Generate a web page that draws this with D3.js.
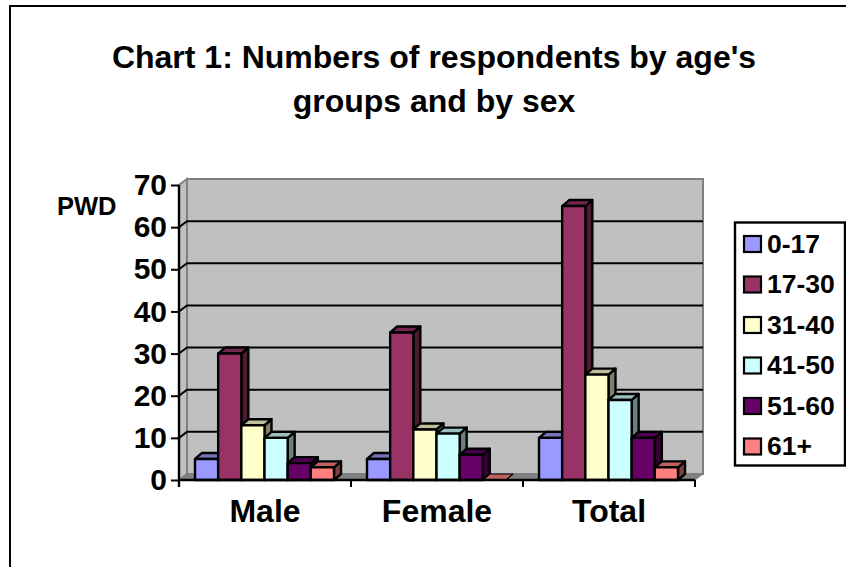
<html>
<head>
  <title>Chart 1</title>
  <script src="https://d3js.org/d3.v7.min.js"></script>
  <style>
    html, body { margin: 0; padding: 0; background: #fff; }
    svg { display: block; font-family: "Liberation Sans", Arial, sans-serif; font-weight: bold; }
  </style>
</head>
<body>
  <svg id="chart" width="846" height="567"></svg>
  <script>
    var titleLines = ["Chart 1: Numbers of respondents by age's", "groups and by sex"];
    var yLabel = "PWD";
    var categories = ["Male", "Female", "Total"];
    var ageGroups = ["0-17", "17-30", "31-40", "41-50", "51-60", "61+"];
    var yTicks = [0, 10, 20, 30, 40, 50, 60, 70];

    var age0to17 = [5, 5, 10];
    var age17to30 = [30, 35, 65];
    var age31to40 = [13, 12, 25];
    var age41to50 = [10, 11, 19];
    var age51to60 = [4, 6, 10];
    var age61plus = [3, 0, 3];
    var seriesValues = [age0to17, age17to30, age31to40, age41to50, age51to60, age61plus];

    var fronts = ["#9999ff", "#993366", "#ffffcc", "#ccffff", "#660066", "#ff8080"];
    var tops = ["#7373bf", "#732650", "#bfbf99", "#99bfbf", "#4d004d", "#bf6060"];
    var sides = ["#5c5c99", "#4d1a33", "#80806a", "#6a8080", "#330033", "#804040"];

    var svg = d3.select("#chart");

    // chart frame
    svg.append("rect").attr("x", 10).attr("y", 6).attr("width", 850).attr("height", 580)
      .attr("fill", "#fff").attr("stroke", "#000").attr("stroke-width", 2);

    svg.selectAll("text.title").data(titleLines).enter().append("text")
      .attr("class", "title")
      .attr("x", 434).attr("y", function (d, i) { return 68 + i * 44; })
      .attr("text-anchor", "middle").attr("font-size", 32).text(function (d) { return d; });

    var x0 = d3.scaleBand().domain(categories).range([179, 695]);
    var x1 = d3.scaleBand().domain(d3.range(ageGroups.length)).range([16, 155]);
    var y = d3.scaleLinear().domain([0, 70]).range([480, 185]);
    var depthX = 8, depthY = -6, barDepthX = 7, barDepthY = -6;

    function poly(pts) { return "M" + pts.map(function (p) { return p.join(","); }).join("L") + "Z"; }

    var plot = svg.append("g");
    var left = x0.range()[0], right = x0.range()[1], y0 = y(0), yTop = y(70);

    // back wall, side wall, floor
    plot.append("path")
      .attr("d", poly([[left + depthX, y0 + depthY], [left + depthX, yTop + depthY], [right + depthX, yTop + depthY], [right + depthX, y0 + depthY]]))
      .attr("fill", "#c0c0c0").attr("stroke", "#808080").attr("stroke-width", 2);
    plot.append("path")
      .attr("d", poly([[left, y0], [left, yTop], [left + depthX, yTop + depthY], [left + depthX, y0 + depthY]]))
      .attr("fill", "#c0c0c0").attr("stroke", "#808080").attr("stroke-width", 2);
    plot.append("path")
      .attr("d", poly([[left, y0], [left + depthX, y0 + depthY], [right + depthX, y0 + depthY], [right, y0]]))
      .attr("fill", "#808080").attr("stroke", "#808080");

    // gridlines on the back wall, wrapping round the side wall
    plot.selectAll("path.grid").data(yTicks.slice(1, -1)).enter().append("path")
      .attr("class", "grid")
      .attr("d", function (d) { return "M" + left + "," + y(d) + "L" + (left + depthX) + "," + (y(d) + depthY) + "H" + (right + depthX); })
      .attr("fill", "none").attr("stroke", "#000").attr("stroke-width", 2);

    // bars
    categories.forEach(function (cat, c) {
      ageGroups.forEach(function (age, s) {
        var v = seriesValues[s][c];
        var bx = x0(cat) + x1(s), bw = x1.bandwidth(), by = y(v);
        var g = plot.append("g").attr("stroke", "#000").attr("stroke-width", 2.4).attr("stroke-linejoin", "round");
        if (v > 0) {
          g.append("path").attr("fill", sides[s])
            .attr("d", poly([[bx + bw, by], [bx + bw + barDepthX, by + barDepthY], [bx + bw + barDepthX, y0 + barDepthY], [bx + bw, y0]]));
          g.append("path").attr("fill", tops[s])
            .attr("d", poly([[bx, by], [bx + barDepthX, by + barDepthY], [bx + bw + barDepthX, by + barDepthY], [bx + bw, by]]));
          g.append("rect").attr("fill", fronts[s]).attr("x", bx).attr("y", by).attr("width", bw).attr("height", y0 - by);
        } else {
          g.append("path").attr("fill", tops[s]).attr("stroke-width", 1.2)
            .attr("d", poly([[bx, y0], [bx + barDepthX, y0 + barDepthY], [bx + bw + barDepthX, y0 + barDepthY], [bx + bw, y0]]));
        }
      });
    });

    // axes
    var axisY = d3.axisLeft(y).tickValues(yTicks).tickSize(8).tickPadding(4);
    var gy = svg.append("g").attr("transform", "translate(" + left + ",0)").call(axisY);
    gy.select(".domain").attr("stroke-width", 2.4).attr("d", "M0," + yTop + "V" + (y0 + 7));
    gy.selectAll(".tick line").attr("stroke-width", 2);
    gy.selectAll("text").attr("font-size", 30).attr("font-family", "Liberation Sans").attr("font-weight", "bold").attr("fill", "#000");

    svg.append("line").attr("x1", left).attr("x2", right).attr("y1", y0).attr("y2", y0)
      .attr("stroke", "#000").attr("stroke-width", 2.4);
    x0.domain().concat(["end"]).forEach(function (cat, i) {
      var tx = left + i * x0.bandwidth();
      svg.append("line").attr("x1", tx).attr("x2", tx).attr("y1", y0).attr("y2", y0 + 7)
        .attr("stroke", "#000").attr("stroke-width", 2);
    });

    svg.selectAll("text.cat").data(categories).enter().append("text")
      .attr("class", "cat")
      .attr("x", function (d) { return x0(d) + x0.bandwidth() / 2; }).attr("y", 522)
      .attr("text-anchor", "middle").attr("font-size", 32).text(function (d) { return d; });

    svg.append("text").attr("x", 57).attr("y", 215).attr("font-size", 25.5).text(yLabel);

    // legend
    var legend = svg.append("g");
    legend.append("rect").attr("x", 735).attr("y", 222.5).attr("width", 110).attr("height", 243)
      .attr("fill", "#fff").attr("stroke", "#000").attr("stroke-width", 2.4);
    var rows = legend.selectAll("g.row").data(ageGroups).enter().append("g").attr("class", "row")
      .attr("transform", function (d, i) { return "translate(0," + (244 + i * 40.5) + ")"; });
    rows.append("rect").attr("x", 744).attr("y", -8).attr("width", 17).attr("height", 16)
      .attr("fill", function (d, i) { return fronts[i]; }).attr("stroke", "#000").attr("stroke-width", 2.2);
    rows.append("text").attr("x", 767).attr("y", 8.5).attr("font-size", 26.5).text(function (d) { return d; });
  </script>
</body>
</html>
